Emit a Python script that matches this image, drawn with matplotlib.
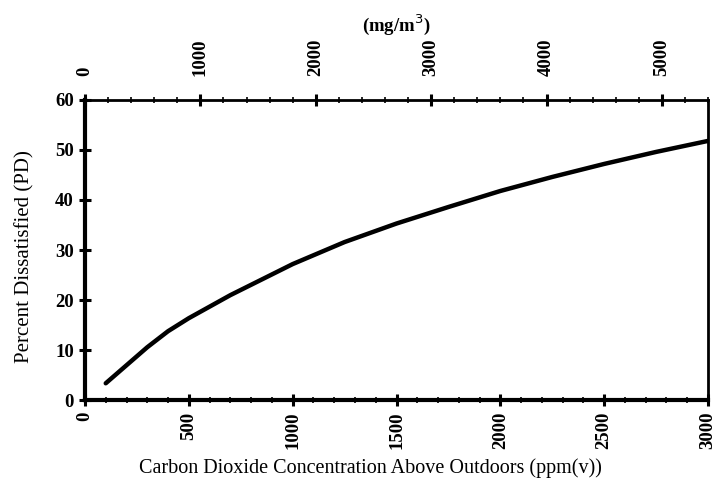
import matplotlib
matplotlib.use("Agg")
import matplotlib.pyplot as plt
from matplotlib.ticker import MultipleLocator

# CO2 above outdoors (ppm) vs percent dissatisfied
co2_ppm = [100, 200, 300, 400, 500, 700, 1000, 1250, 1500, 1750,
           2000, 2250, 2500, 2750, 3000]
pd_percent = [3.4, 7.0, 10.6, 13.8, 16.4, 21.0, 27.2, 31.6, 35.3, 38.6,
              41.8, 44.6, 47.2, 49.6, 51.8]

ppm_ticks = [0, 500, 1000, 1500, 2000, 2500, 3000]
mg_ticks = [0, 1000, 2000, 3000, 4000, 5000]
pd_ticks = [0, 10, 20, 30, 40, 50, 60]

# 1 ppm CO2 ~ 1.8 mg/m3
PPM_TO_MG = 1.8

plt.rcParams["font.family"] = ["Liberation Serif", "DejaVu Serif"]

fig = plt.figure(figsize=(7.17, 4.87), dpi=100)
ax = fig.add_axes([0.1185, 0.178, 0.869, 0.617])

ax.plot(co2_ppm, pd_percent, color="black", linewidth=3.2,
        solid_capstyle="round")

ax.set_xlim(0, 3000)
ax.set_ylim(0, 60)
ax.set_xticks(ppm_ticks)
ax.set_yticks(pd_ticks)
ax.xaxis.set_minor_locator(MultipleLocator(100))

ax.set_xticklabels([str(t) for t in ppm_ticks], rotation=90,
                   fontsize=13.5, fontweight="bold")
ax.set_yticklabels([str(t) for t in pd_ticks], fontsize=13.5,
                   fontweight="bold")
ax.tick_params(axis="both", which="major", direction="inout",
               length=9, width=2.2)
ax.tick_params(axis="x", which="minor", direction="inout",
               length=5, width=1.2)

ax.spines["left"].set_linewidth(3)
ax.spines["bottom"].set_linewidth(3)
ax.spines["right"].set_linewidth(2)
ax.spines["top"].set_visible(False)

# the scanned label sits a bit left of centre
ax.set_xlabel("Carbon Dioxide Concentration Above Outdoors (ppm(v))",
              fontsize=14.5, labelpad=7, x=0.458)
ax.set_ylabel("Percent Dissatisfied (PD)", fontsize=15, labelpad=15,
              y=0.48)

top = ax.secondary_xaxis("top", functions=(lambda x: x * PPM_TO_MG,
                                            lambda x: x / PPM_TO_MG))
top.set_xticks(mg_ticks)
top.set_xticklabels([str(t) for t in mg_ticks], rotation=90,
                    fontsize=13.5, fontweight="bold")
top.xaxis.set_minor_locator(MultipleLocator(200))
top.tick_params(which="major", direction="inout", length=9, width=2.2,
                pad=13)
top.tick_params(which="minor", direction="inout", length=5, width=1.2)
top.spines["top"].set_linewidth(2)
top.set_xlabel("(mg/m$^3$)", fontsize=13.5, fontweight="bold", labelpad=5)

fig.savefig("out.png", dpi=100)
